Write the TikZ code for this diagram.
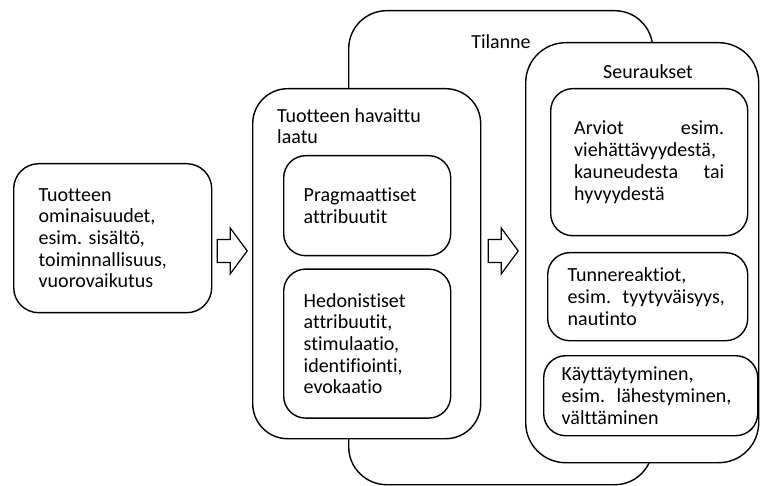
\documentclass[tikz,border=0pt]{standalone}
\usepackage{fontspec}
\setmainfont{Carlito}[Ligatures=CommonOff]
\usetikzlibrary{positioning,calc}
\frenchspacing

\begin{document}
\begin{tikzpicture}[
    x=1pt, y=-1pt,
    every node/.style={font=\fontsize{20}{21.7}\selectfont},
    iso/.style={draw, line width=1.4pt, fill=white, rounded corners=38pt, inner sep=0pt},
    laatikko/.style={draw, line width=1.4pt, fill=white, rounded corners=22pt,
                     align=left, inner ysep=4pt},
    nuoli/.style={draw, line width=1.2pt, fill=white, line join=miter},
    node distance=12pt
  ]
    \useasboundingbox (0,0) rectangle (763,486);
    % tilanne taustalla
    \node[iso, minimum width=304pt, minimum height=474pt, anchor=north west] (tilanne) at (348,10) {};
    \node (tilanneots) at (501,42) {Tilanne};
    % havaittu laatu
    \node[iso, rounded corners=35pt, minimum width=228pt, minimum height=350pt, anchor=north west] (laatu) at (252,88) {};
    \node[anchor=base west, align=left, inner sep=0pt] (laatuots) at (277,144) {Tuotteen havaittu\\laatu};
    \node[laatikko, text width=127pt, inner xsep=20pt, minimum height=100pt, anchor=north west] (prag) at (283,155)
        {Pragmaattiset\\attribuutit};
    \node[laatikko, text width=127pt, inner xsep=20pt, minimum height=149pt, below=of prag] (hedon)
        {Hedonistiset\\attribuutit,\\stimulaatio,\\identifiointi,\\evokaatio};
    % seuraukset
    \node[iso, rounded corners=40pt, minimum width=233pt, minimum height=420pt, anchor=north west] (seur) at (525,42) {};
    \node (seurots) at (648,72) {Seuraukset};
    \node[laatikko, text width=150pt, inner xsep=23.5pt, minimum height=147pt, anchor=north west] (arviot) at (550,88)
        {Arviot \hfill esim.\\viehättävyydestä,\\kauneudesta \hfill tai\\hyvyydestä};
    \node[laatikko, text width=170pt, inner xsep=15pt, minimum height=88pt, anchor=north west] (tunne) at (547,252)
        {\hspace{5pt}Tunnereaktiot,\\\hspace{5pt}esim.\hspace{0.25em} tyytyväisyys,\\\hspace{5pt}nautinto};
    \node[laatikko, text width=190pt, inner xsep=12pt, minimum height=80pt, anchor=north west] (kaytos) at (543,355)
        {\hspace{6pt}Käyttäytyminen,\\\hspace{6pt}esim.\hspace{0.25em} lähestyminen,\\\hspace{6pt}välttäminen};
    % tuotteen ominaisuudet
    \node[laatikko, rounded corners=25pt, text width=148pt, inner xsep=25pt, minimum height=149pt, anchor=north west] (tuote) at (13,163)
        {Tuotteen\\ominaisuudet,\\esim. sisältö,\\toiminnallisuus,\\vuorovaikutus};
    % nuolet
    \coordinate (n1) at ($(tuote.east)!0.5!(laatu.west)$);
    \coordinate (n2) at ($(laatu.east |- n1)!0.5!(seur.west |- n1)$);
    \draw[nuoli] (n1) ++(-15,-11.5) -- ++(13,0) -- ++(0,-11.5) -- ++(17,23) -- ++(-17,23) -- ++(0,-11.5) -- ++(-13,0) -- cycle;
    \draw[nuoli] (n2) ++(-15,-11.5) -- ++(13,0) -- ++(0,-11.5) -- ++(17,23) -- ++(-17,23) -- ++(0,-11.5) -- ++(-13,0) -- cycle;
\end{tikzpicture}
\end{document}
